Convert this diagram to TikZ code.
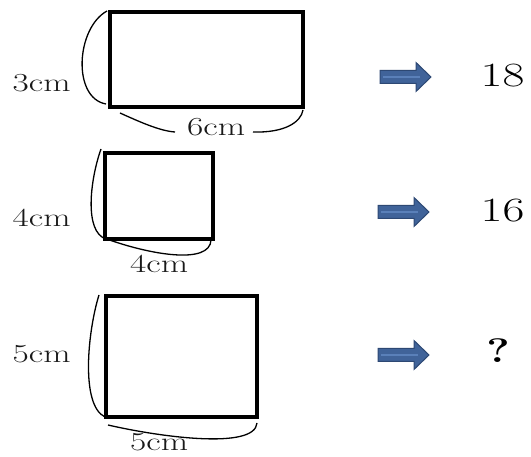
\documentclass[tikz,border=0pt]{standalone}
\begin{document}
\definecolor{arrowblue}{RGB}{64,99,153}
\definecolor{arrowdark}{RGB}{45,72,115}
\definecolor{arrowlight}{RGB}{90,128,185}
\definecolor{labelgray}{RGB}{25,25,25}
\tikzset{
  rectbox/.style={draw=black, line width=3.2pt, inner sep=0pt, outer sep=0pt},
  brace/.style={draw=black, line width=1.3pt},
  lbl/.style={inner sep=0pt, anchor=base west, text=labelgray, font=\fontsize{26}{26}\selectfont},
  num/.style={inner sep=0pt, anchor=base, text=black, font=\fontsize{34}{34}\selectfont},
  blockarrow/.style={fill=arrowblue, draw=arrowdark, line width=1pt, line join=miter},
  arrowshine/.style={draw=arrowlight, line width=1.6pt}
}
\begin{tikzpicture}[x=1pt,y=-1pt]
\useasboundingbox (0,0) rectangle (531,457);
% rectangles
\node[rectbox, minimum width=193pt, minimum height=95pt] (r1) at (206.5,59.5) {};
\node[rectbox, minimum width=108pt, minimum height=86pt] (r2) at (159,196) {};
\node[rectbox, minimum width=151pt, minimum height=121pt] (r3) at (181.5,356.5) {};
% brace end points
\coordinate (a1) at (107,11);  \coordinate (b1) at (106,104);
\coordinate (c1) at (120,113); \coordinate (d1) at (175,132);
\coordinate (e1) at (253,132); \coordinate (f1) at (303,110);
\coordinate (a2) at (101,149); \coordinate (b2) at (106,239);
\coordinate (c2) at (104,238); \coordinate (f2) at (211,240);
\coordinate (a3) at (99,295);  \coordinate (b3) at (105,417);
\coordinate (c3) at (108,425); \coordinate (f3) at (257,423);
% braces
\draw[brace] (a1) .. controls (76,28) and (72,98) .. (b1);
\draw[brace] (c1) .. controls (140,122) and (160,131) .. (d1);
\draw[brace] (e1) .. controls (285,133) and (301,122) .. (f1);
\draw[brace] (a2) .. controls (90,180) and (84,232) .. (b2);
\draw[brace] (c2) .. controls (150,255) and (210,265) .. (f2);
\draw[brace] (a3) .. controls (88,330) and (80,405) .. (b3);
\draw[brace] (c3) .. controls (160,437) and (255,450) .. (f3);
% labels
\node[lbl] (l1) at (12.5,92) {\scalebox{1.36}[1]{3cm}};
\node[lbl] (l2) at (187,136) {\scalebox{1.36}[1]{6cm}};
\node[lbl] (l3) at (12.5,227) {\scalebox{1.36}[1]{4cm}};
\node[lbl] (l4) at (130,273) {\scalebox{1.36}[1]{4cm}};
\node[lbl] (l5) at (12.5,363) {\scalebox{1.36}[1]{5cm}};
\node[lbl] (l6) at (130,451) {\scalebox{1.36}[1]{5cm}};
% arrows
\foreach \nm/\x/\y in {ar1/380/77, ar2/378/212, ar3/378/355}{
  \draw[blockarrow] (\x,\y-6.5) -- (\x+36,\y-6.5) -- (\x+36,\y-14.5) -- (\x+51,\y)
     -- (\x+36,\y+14.5) -- (\x+36,\y+6.5) -- (\x,\y+6.5) -- cycle;
  \draw[arrowshine] (\x+3,\y) -- (\x+40,\y);
  \coordinate (\nm) at (\x+25,\y);
}
% results
\node[num] (n1) at (502.5,87) {\scalebox{1.4}[1]{18}};
\node[num] (n2) at (502.5,222) {\scalebox{1.4}[1]{16}};
\node[num] (n3) at (498,363) {\scalebox{1.3}[1]{\bfseries ?}};
\end{tikzpicture}
\end{document}
